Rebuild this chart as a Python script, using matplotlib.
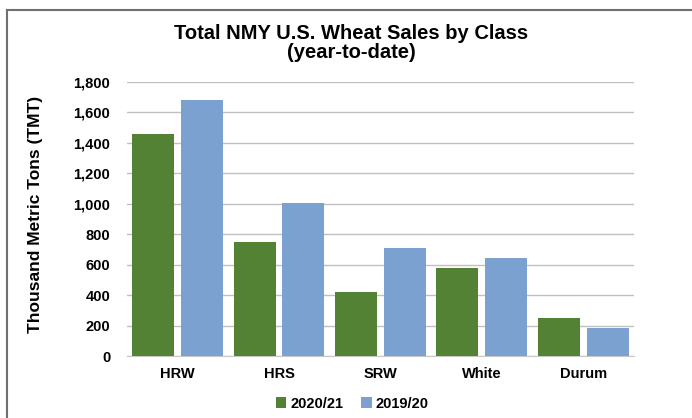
import matplotlib
matplotlib.use("Agg")
import matplotlib.pyplot as plt
from matplotlib.lines import Line2D
import numpy as np

CLASSES = ["HRW", "HRS", "SRW", "White", "Durum"]
SALES_2021 = [1457, 747, 423, 580, 252]
SALES_1920 = [1680, 1007, 708, 642, 184]
SERIES = ["2020/21", "2019/20"]
YTICKS = [0, 200, 400, 600, 800, 1000, 1200, 1400, 1600, 1800]

GREEN = "#548235"
BLUE = "#7ba1d1"

plt.rcParams["font.family"] = ["Liberation Sans", "DejaVu Sans"]
plt.rcParams["font.weight"] = "bold"

fig = plt.figure(figsize=(6.92, 4.18), dpi=100)
ax = fig.add_axes([0.1835, 0.1483, 0.7325, 0.6555])

x = np.arange(len(CLASSES))
w = 0.414
off = 0.241
ax.bar(x - off, SALES_2021, w, color=GREEN, label=SERIES[0], zorder=3)
ax.bar(x + off, SALES_1920, w, color=BLUE, label=SERIES[1], zorder=3)

ax.set_xlim(-0.5, len(CLASSES) - 0.5)
ax.set_ylim(0, 1800)
ax.set_yticks(YTICKS)
ax.set_yticklabels([f"{v:,}" for v in YTICKS], fontsize=10.5, fontweight="bold")
ax.set_xticks(x)
ax.set_xticklabels(CLASSES, fontsize=10.5, fontweight="bold")
ax.tick_params(axis="y", length=0, pad=12)
ax.tick_params(axis="x", length=0, pad=8)
ax.yaxis.grid(True, color="#c0c0c0", linewidth=1, zorder=0)
for s in ("top", "right", "left"):
    ax.spines[s].set_visible(False)
ax.spines["bottom"].set_color("#c8c8c8")

fig.text(36 / 692, 1 - 214 / 418, "Thousand Metric Tons (TMT)", rotation=90,
         ha="center", va="center", fontsize=12.5, fontweight="bold")

fig.text(0.508, 1 - 43 / 418, "Total NMY U.S. Wheat Sales by Class\n(year-to-date)",
         ha="center", va="center", fontsize=14.5, fontweight="bold", linespacing=1.0)

ax.legend(loc="upper center", bbox_to_anchor=(0.445, -0.1), ncol=2, frameon=False,
          handlelength=0.7, handleheight=0.7, handletextpad=0.3,
          columnspacing=1.2, prop={"weight": "bold", "size": 10.5})

# chart frame: top and left edges only
fig.add_artist(Line2D([7 / 692, 1], [1 - 10 / 418, 1 - 10 / 418], color="#707070", lw=1.5,
                      transform=fig.transFigure))
fig.add_artist(Line2D([7 / 692, 7 / 692], [0, 1 - 10 / 418], color="#707070", lw=1.5,
                      transform=fig.transFigure))

fig.savefig("out.png", dpi=100)
